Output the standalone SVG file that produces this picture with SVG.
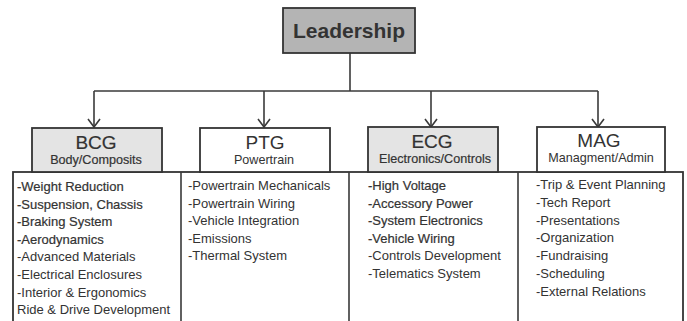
<svg xmlns="http://www.w3.org/2000/svg" width="687" height="321" viewBox="0 0 687 321">
  <style>
    .bg { fill: #ffffff; }
    .box { stroke: #333; stroke-width: 1.8; }
    .plain { fill: #ffffff; }
    .tint { fill: #e4e4e4; }
    .dark { fill: #b4b4b4; }
    .wire { fill: none; stroke: #3a3a3a; stroke-width: 1.6; }
    .drop { marker-end: url(#vee); }
    text { font-family: "Liberation Sans", Arial, sans-serif; fill: #333; }
    .title { font-size: 21px; font-weight: bold; text-anchor: middle; }
    .head { font-size: 19px; text-anchor: middle; }
    .sub { font-size: 12.6px; text-anchor: middle; }
    .item { font-size: 13px; }
    .heavy { stroke: #333; stroke-width: 0.2; }
  </style>
  <defs>
    <!-- open V arrowhead, tip at the end of the line -->
    <marker id="vee" viewBox="0 0 10 14" refX="9" refY="7" markerWidth="10" markerHeight="14" markerUnits="userSpaceOnUse" orient="auto">
      <path d="M1,1 L9,7 L1,13" fill="none" stroke="#3a3a3a" stroke-width="1.6"/>
    </marker>
  </defs>

  <rect class="bg" x="0" y="0" width="687" height="321"/>

  <!-- connectors -->
  <g id="connectors">
    <path class="wire" d="M350,53 V91"/>
    <path class="wire" d="M94,91 H598"/>
    <path class="wire drop" d="M94,91 V127"/>
    <path class="wire drop" d="M264,91 V127"/>
    <path class="wire drop" d="M431,91 V127"/>
    <path class="wire drop" d="M598,91 V127"/>
  </g>

  <!-- top node -->
  <g id="leadership">
    <rect class="box dark" x="283" y="8" width="132" height="45"/>
    <text class="title" x="349" y="38">Leadership</text>
  </g>

  <!-- task list panel -->
  <g id="tasks">
    <rect class="box plain" x="13" y="172" width="670" height="160"/>
    <path class="wire" d="M181,172 V321 M349,172 V321 M518,172 V321"/>
  </g>

  <g id="bcg">
    <rect class="box tint" x="32" y="128" width="130" height="44"/>
    <text class="head heavy" x="96" y="149">BCG</text>
    <text class="sub heavy" x="96" y="164">Body/Composits</text>
    <text class="item heavy" x="17" y="191">-Weight Reduction</text>
    <text class="item heavy" x="17" y="208.6">-Suspension, Chassis</text>
    <text class="item heavy" x="17" y="226.2">-Braking System</text>
    <text class="item heavy" x="17" y="243.8">-Aerodynamics</text>
    <text class="item" x="17" y="261.4">-Advanced Materials</text>
    <text class="item" x="17" y="279">-Electrical Enclosures</text>
    <text class="item" x="17" y="296.6">-Interior &amp; Ergonomics</text>
    <text class="item" x="17" y="314.2">Ride &amp; Drive Development</text>
  </g>

  <g id="ptg">
    <rect class="box plain" x="200" y="128" width="130" height="44"/>
    <text class="head" x="265" y="149">PTG</text>
    <text class="sub" x="264" y="164">Powertrain</text>
    <text class="item" x="188" y="190">-Powertrain Mechanicals</text>
    <text class="item" x="188" y="207.6">-Powertrain Wiring</text>
    <text class="item" x="188" y="225.2">-Vehicle Integration</text>
    <text class="item" x="188" y="242.8">-Emissions</text>
    <text class="item" x="188" y="260.4">-Thermal System</text>
  </g>

  <g id="ecg">
    <rect class="box tint" x="368" y="127" width="130" height="45"/>
    <text class="head heavy" x="432" y="148">ECG</text>
    <text class="sub heavy" x="435" y="163">Electronics/Controls</text>
    <text class="item heavy" x="368" y="190">-High Voltage</text>
    <text class="item heavy" x="368" y="207.6">-Accessory Power</text>
    <text class="item heavy" x="368" y="225.2">-System Electronics</text>
    <text class="item heavy" x="368" y="242.8">-Vehicle Wiring</text>
    <text class="item" x="368" y="260.4">-Controls Development</text>
    <text class="item" x="368" y="278">-Telematics System</text>
  </g>

  <g id="mag">
    <rect class="box plain" x="537" y="127" width="128" height="45"/>
    <text class="head" x="599" y="147">MAG</text>
    <text class="sub" x="601" y="162">Managment/Admin</text>
    <text class="item" x="536" y="189">-Trip &amp; Event Planning</text>
    <text class="item" x="536" y="206.8">-Tech Report</text>
    <text class="item" x="536" y="224.6">-Presentations</text>
    <text class="item" x="536" y="242.4">-Organization</text>
    <text class="item" x="536" y="260.2">-Fundraising</text>
    <text class="item" x="536" y="278">-Scheduling</text>
    <text class="item" x="536" y="295.8">-External Relations</text>
  </g>
</svg>
